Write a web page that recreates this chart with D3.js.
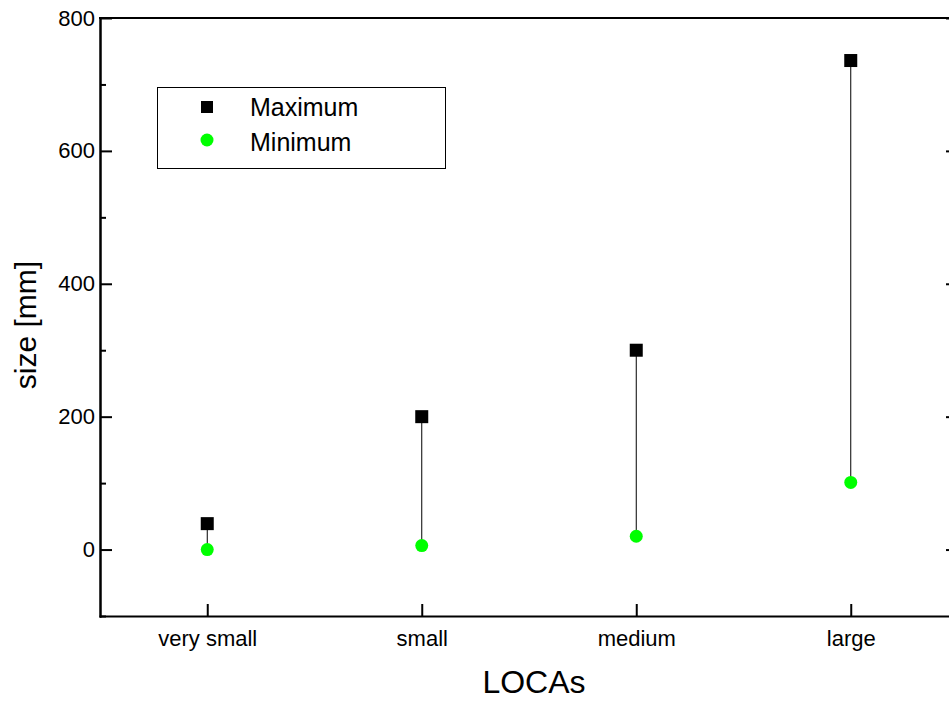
<!DOCTYPE html>
<html>
<head>
<meta charset="utf-8">
<script src="https://cdn.jsdelivr.net/npm/d3@7"></script>
<style>
  html, body { margin: 0; padding: 0; background: #fff; overflow: hidden; }
  svg { display: block; font-family: "Liberation Sans", Arial, sans-serif; }
</style>
</head>
<body>
<svg id="chart" width="949" height="702"></svg>
<script>
// LOCA categories and the size range (mm) for each one
const categories = ["very small", "small", "medium", "large"];
const maxSize = [39, 200, 300, 736];
const minSize = [0, 6, 20, 101];
const yMajorTicks = [0, 200, 400, 600, 800];
const yMinorTicks = [-100, 100, 300, 500, 700];

const svg = d3.select("#chart");

const plotLeft = 100, plotRight = 958, plotTop = 18, plotBottom = 616;

const x = d3.scalePoint().domain(categories).range([plotLeft, plotRight]).padding(0.5);
const y = d3.scaleLinear().domain([-100, 800]).range([plotBottom, plotTop]);

const data = categories.map((c, i) => ({ c, max: maxSize[i], min: minSize[i] }));

// frame: top line
svg.append("line")
  .attr("x1", plotLeft).attr("x2", plotRight).attr("y1", plotTop).attr("y2", plotTop)
  .attr("stroke", "#000").attr("stroke-width", 2).attr("stroke-linecap", "square");

function styleAxis(g, fontSize) {
  g.select(".domain").attr("stroke-width", 2).attr("stroke-linecap", "square");
  g.selectAll(".tick line").attr("stroke-width", 2);
  g.selectAll(".tick text").attr("font-size", fontSize).attr("fill", "#000")
    .attr("font-family", "Liberation Sans, Arial, sans-serif");
}

// left axis (major ticks with labels, minor ticks)
const gl = svg.append("g").attr("transform", `translate(${plotLeft},0)`)
  .call(d3.axisLeft(y).tickValues(yMajorTicks).tickSizeInner(-12).tickSizeOuter(0).tickPadding(5));
styleAxis(gl, 22);
const glm = svg.append("g").attr("transform", `translate(${plotLeft},0)`)
  .call(d3.axisLeft(y).tickValues(yMinorTicks).tickSizeInner(-6).tickSizeOuter(0).tickFormat(""));
styleAxis(glm, 22);

// right axis (ticks only)
const gr = svg.append("g").attr("transform", `translate(${plotRight},0)`)
  .call(d3.axisRight(y).tickValues(yMajorTicks).tickSizeInner(-12).tickSizeOuter(0).tickFormat(""));
styleAxis(gr, 22);
const grm = svg.append("g").attr("transform", `translate(${plotRight},0)`)
  .call(d3.axisRight(y).tickValues(yMinorTicks).tickSizeInner(-6).tickSizeOuter(0).tickFormat(""));
styleAxis(grm, 22);

// bottom axis
const gb = svg.append("g").attr("transform", `translate(0,${plotBottom})`)
  .call(d3.axisBottom(x).tickSizeInner(-12).tickSizeOuter(0).tickPadding(14));
styleAxis(gb, 22);

// range lines between minimum and maximum
svg.append("g").selectAll("line").data(data).join("line")
  .attr("x1", d => x(d.c)).attr("x2", d => x(d.c))
  .attr("y1", d => y(d.max)).attr("y2", d => y(d.min))
  .attr("stroke", "#000").attr("stroke-width", 1);

// maximum markers
const sq = 13;
svg.append("g").selectAll("rect").data(data).join("rect")
  .attr("x", d => x(d.c) - sq / 2).attr("y", d => y(d.max) - sq / 2)
  .attr("width", sq).attr("height", sq).attr("fill", "#000");

// minimum markers
svg.append("g").selectAll("circle").data(data).join("circle")
  .attr("cx", d => x(d.c)).attr("cy", d => y(d.min)).attr("r", 6.5)
  .attr("fill", "#00ff00");

// axis titles
svg.append("text").attr("x", 534).attr("y", 693).attr("text-anchor", "middle")
  .attr("font-size", 32).text("LOCAs");
svg.append("text").attr("transform", "translate(36,325) rotate(-90)")
  .attr("text-anchor", "middle").attr("font-size", 30).text("size [mm]");

// legend
const lg = svg.append("g");
lg.append("rect").attr("x", 157.5).attr("y", 87.5).attr("width", 288).attr("height", 81)
  .attr("fill", "#fff").attr("stroke", "#000").attr("stroke-width", 1);
lg.append("rect").attr("x", 207 - 6).attr("y", 107 - 6).attr("width", 12).attr("height", 12).attr("fill", "#000");
lg.append("circle").attr("cx", 207).attr("cy", 140).attr("r", 6.5).attr("fill", "#00ff00");
lg.append("text").attr("x", 250).attr("y", 116).attr("font-size", 25).text("Maximum");
lg.append("text").attr("x", 250).attr("y", 151).attr("font-size", 25).text("Minimum");
</script>
</body>
</html>
